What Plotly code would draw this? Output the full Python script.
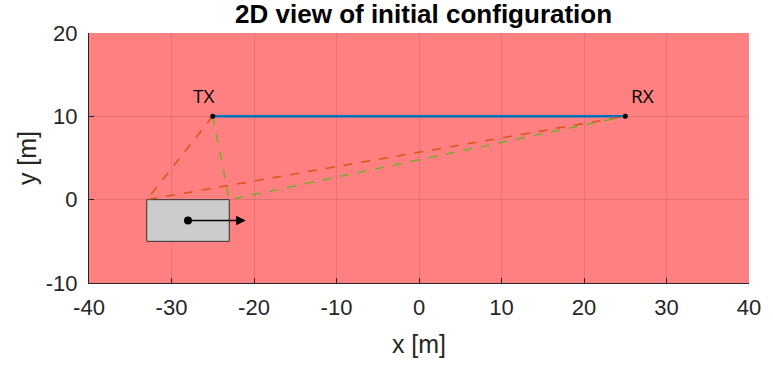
import plotly.graph_objects as go

# Scene geometry (metres)
tx_pos = [-25, 10]
rx_pos = [25, 10]
car_x = [-33, -23, -23, -33, -33]
car_y = [-5, -5, 0, 0, -5]
car_center = [-28, -2.5]
car_velocity_tip = [-21, -2.5]
# Reflection points on the car roof corners
refl_orange = [-33, 0]
refl_green = [-23, 0]

x_ticks = [-40, -30, -20, -10, 0, 10, 20, 30, 40]
y_ticks = [-10, 0, 10, 20]
x_tick_text = ["-40", "-30", "-20", "-10", "0", "10", "20", "30", "40"]
y_tick_text = ["-10", "0", "10", "20"]

FONT = "Liberation Sans, Arial"

fig = go.Figure()

# Car body
fig.add_trace(go.Scatter(x=car_x, y=car_y, mode="lines", fill="toself",
                         fillcolor="#CCCCCC", line=dict(color="#333333", width=1),
                         hoverinfo="skip", showlegend=False))

# Line-of-sight path
fig.add_trace(go.Scatter(x=[tx_pos[0], rx_pos[0]], y=[tx_pos[1], rx_pos[1]],
                         mode="lines", line=dict(color="#0072BD", width=2.5),
                         showlegend=False))

# Reflected paths
fig.add_trace(go.Scatter(x=[tx_pos[0], refl_orange[0], rx_pos[0]],
                         y=[tx_pos[1], refl_orange[1], rx_pos[1]],
                         mode="lines", line=dict(color="#D95319", width=1.5, dash="dash"),
                         showlegend=False))
fig.add_trace(go.Scatter(x=[tx_pos[0], refl_green[0], rx_pos[0]],
                         y=[tx_pos[1], refl_green[1], rx_pos[1]],
                         mode="lines", line=dict(color="#77AC30", width=1.5, dash="dash"),
                         showlegend=False))

# TX / RX antennas
fig.add_trace(go.Scatter(x=[tx_pos[0], rx_pos[0]], y=[tx_pos[1], rx_pos[1]],
                         mode="markers", marker=dict(color="black", size=5),
                         showlegend=False))

# Car center and velocity arrow
fig.add_trace(go.Scatter(x=[car_center[0]], y=[car_center[1]], mode="markers",
                         marker=dict(color="black", size=8), showlegend=False))
fig.add_annotation(x=car_velocity_tip[0], y=car_velocity_tip[1],
                   ax=car_center[0], ay=car_center[1],
                   xref="x", yref="y", axref="x", ayref="y",
                   showarrow=True, arrowhead=2, arrowsize=1.2, arrowwidth=1.6,
                   arrowcolor="black", text="")

# Antenna labels
fig.add_annotation(x=tx_pos[0], y=tx_pos[1], text="TX", showarrow=False,
                   xanchor="center", yanchor="bottom", xshift=-9, yshift=5,
                   font=dict(family="Open Sans", size=19, color="black"))
fig.add_annotation(x=rx_pos[0], y=rx_pos[1], text="RX", showarrow=False,
                   xanchor="center", yanchor="bottom", xshift=17, yshift=5,
                   font=dict(family="Open Sans", size=19, color="black"))

axis_common = dict(showgrid=True, gridcolor="rgba(0,0,0,0.10)", gridwidth=1,
                   zeroline=False, showline=True, linecolor="#262626", linewidth=1,
                   ticks="inside", ticklen=5, tickcolor="#262626",
                   tickfont=dict(family=FONT, size=22, color="#262626"),
                   mirror=False)

fig.update_layout(
    width=773, height=367,
    margin=dict(l=89, r=18, t=33, b=84),
    paper_bgcolor="white", plot_bgcolor="#FF8080",
    title=dict(text="<b>2D view of initial configuration</b>", x=0.548, xanchor="center",
               y=0.962, yanchor="middle",
               font=dict(family=FONT, size=26, color="black")),
    xaxis=dict(range=[-40, 40], tickvals=x_ticks, ticktext=x_tick_text,
               ticklabelstandoff=5, **axis_common,
               title=dict(text="x [m]", standoff=16,
                          font=dict(family=FONT, size=25, color="#262626"))),
    yaxis=dict(range=[-10, 20], tickvals=y_ticks, ticktext=y_tick_text,
               ticklabelstandoff=6, **axis_common,
               title=dict(text="y [m]", standoff=2,
                          font=dict(family=FONT, size=25, color="#262626"))),
)

fig.write_html("out.html")
